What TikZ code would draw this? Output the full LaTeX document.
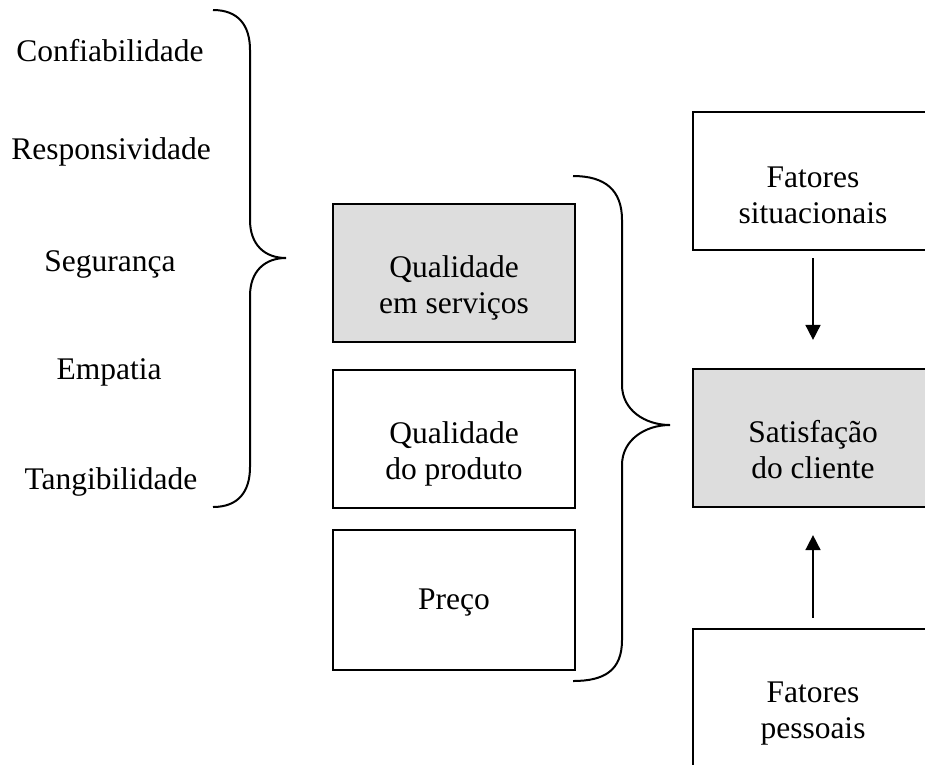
\documentclass[tikz,border=0pt]{standalone}
\usepackage{fontspec}
\setmainfont{Liberation Serif}
\usetikzlibrary{arrows.meta}
\definecolor{boxgray}{RGB}{221,221,221}
\begin{document}
\begin{tikzpicture}[x=1pt,y=-1pt,
  txt/.style={inner sep=0pt,anchor=base,font=\fontsize{31.5}{36}\selectfont},
  box/.style={draw=black,line width=2.2pt,inner sep=0pt},
  grayfill/.style={fill=boxgray},
  brace/.style={draw=black,line width=2pt},
  arr/.style={draw=black,line width=1.7pt,-{Triangle[length=15pt,width=15pt]}}]
\useasboundingbox (0,0) rectangle (925,764);
\clip (0,0) rectangle (925,764);
% left column
\node[txt] (c1) at (110,61) {Confiabilidade};
\node[txt] (c2) at (111,159) {Responsividade};
\node[txt] (c3) at (110,271) {Segurança};
\node[txt] (c4) at (109,379) {Empatia};
\node[txt] (c5) at (111,489) {Tangibilidade};
% left brace
\path[brace] (213,10) .. controls (238,10) and (250,25) .. (250,50) -- (250,220)
  .. controls (250,245) and (265,258) .. (286,258)
  .. controls (265,258) and (250,271) .. (250,296) -- (250,467)
  .. controls (250,492) and (238,507) .. (213,507);
% middle boxes
\node[box,grayfill,minimum width=242pt,minimum height=138pt] (qs) at (454,273) {};
\node[txt] (qs1) at (454,277) {Qualidade};
\node[txt] (qs2) at (454,313) {em serviços};
\node[box,minimum width=242pt,minimum height=138pt] (qp) at (454,439) {};
\node[txt] (qp1) at (454,443) {Qualidade};
\node[txt] (qp2) at (454,479) {do produto};
\node[box,minimum width=242pt,minimum height=140pt] (pr) at (454,600) {};
\node[txt] (pr1) at (454,609) {Preço};
% middle brace
\path[brace] (573,176) .. controls (605,176) and (622,190) .. (622,220) -- (622,385)
  .. controls (622,410) and (645,425) .. (670,425)
  .. controls (645,425) and (622,440) .. (622,465) -- (622,640)
  .. controls (622,670) and (605,681) .. (573,681);
% right boxes
\node[box,minimum width=240pt,minimum height=138pt] (fs) at (813,181) {};
\node[txt] (fs1) at (813,187) {Fatores};
\node[txt] (fs2) at (813,223) {situacionais};
\node[box,grayfill,minimum width=240pt,minimum height=138pt] (sat) at (813,438) {};
\node[txt] (sat1) at (813,442) {Satisfação};
\node[txt] (sat2) at (813,478) {do cliente};
\node[box,minimum width=240pt,minimum height=140pt] (fp) at (813,699) {};
\node[txt] (fp1) at (813,702) {Fatores};
\node[txt] (fp2) at (813,738) {pessoais};
% arrows
\draw[arr,shorten <=7pt,shorten >=28pt] (fs.south) -- (sat.north);
\draw[arr,shorten <=10pt,shorten >=27pt] (fp.north) -- (sat.south);
\end{tikzpicture}
\end{document}
